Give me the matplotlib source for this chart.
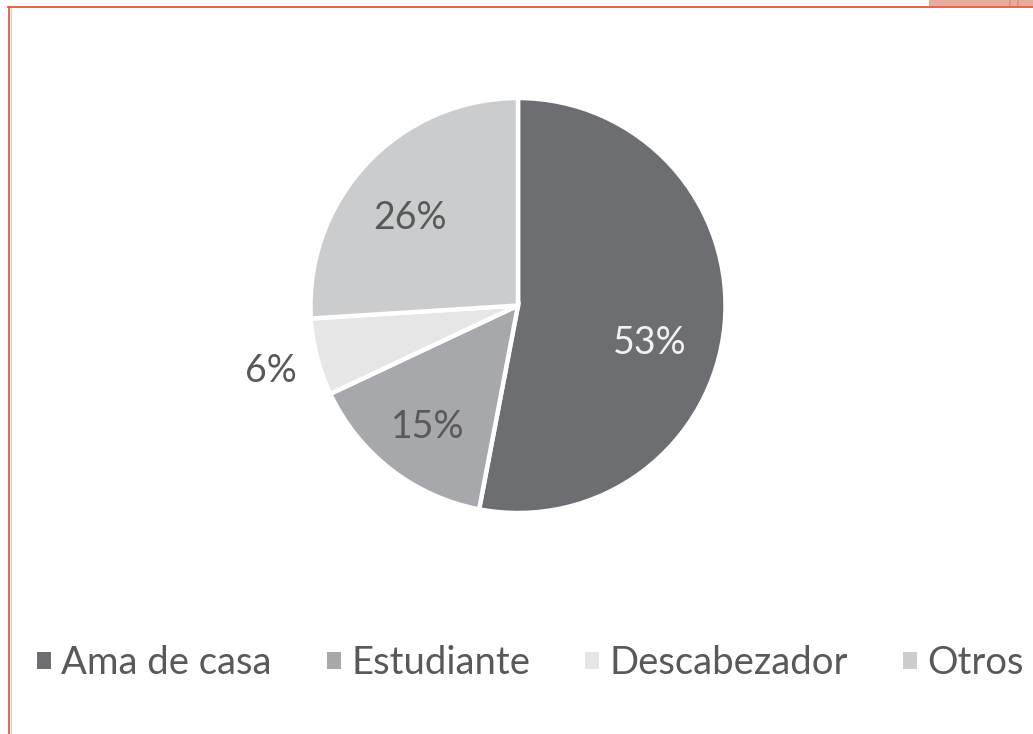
import numpy as np
import matplotlib
matplotlib.use("Agg")
import matplotlib.pyplot as plt
from matplotlib.patches import Patch, Rectangle
from matplotlib.lines import Line2D

categories = ["Ama de casa", "Estudiante", "Descabezador", "Otros"]
shares = [53, 15, 6, 26]
slice_colors = ["#6d6e71", "#a7a8ab", "#e6e6e7", "#cbcccd"]
label_colors = ["#f2f2f2", "#595959", "#595959", "#595959"]
# label placement (radius as fraction of pie radius, angular shift in degrees)
label_radius = [0.66, 0.73, 1.23, 0.67]
label_shift = [-10.5, 1.0, 0.5, 4.0]

plt.rcParams["font.family"] = ["Lato", "DejaVu Sans"]

W, H = 1033, 734
fig = plt.figure(figsize=(W / 100, H / 100), dpi=100)
fig.patch.set_facecolor("white")

# pie centre and radius in pixels
cx, cy, r = 518, 734 - 305.5, 207.5
ax = fig.add_axes([(cx - r) / W, (cy - r) / H, 2 * r / W, 2 * r / H])
wedges, _ = ax.pie(shares, colors=slice_colors, startangle=90, counterclock=False,
                   radius=1.0, wedgeprops=dict(edgecolor="white", linewidth=3.2))
ax.set_xlim(-1, 1)
ax.set_ylim(-1, 1)
ax.set_aspect("equal")
ax.axis("off")

for w, val, col, rad, sh in zip(wedges, shares, label_colors, label_radius, label_shift):
    mid = np.deg2rad((w.theta1 + w.theta2) / 2 + sh)
    ax.text(rad * np.cos(mid), rad * np.sin(mid), f"{val}%", ha="center", va="center",
            fontsize=27, color=col)

handles = [Patch(facecolor=c, edgecolor="none") for c in slice_colors]
fig.legend(handles, categories, ncol=4, loc="center left",
           bbox_to_anchor=(37 / W, 1 - 663 / H), frameon=False,
           fontsize=27.5, labelcolor="#595959", borderpad=0, borderaxespad=0,
           handlelength=0.36, handleheight=0.3, handletextpad=0.27,
           columnspacing=1.45)

# frame decoration
fig.add_artist(Line2D([8.5 / W, 8.5 / W], [0, 1 - 6.5 / H], transform=fig.transFigure,
                      color="#e05a3c", linewidth=1.3))
fig.add_artist(Line2D([10.5 / W, 10.5 / W], [0, 1 - 8 / H], transform=fig.transFigure,
                      color="#f4c6bb", linewidth=0.8))
fig.add_artist(Rectangle((929 / W, 1 - 6 / H), (W - 929) / W, 6 / H,
                         transform=fig.transFigure, facecolor="#e8ab9d", edgecolor="none"))
for xp in (1010, 1017.5):
    fig.add_artist(Line2D([xp / W, xp / W], [1 - 6 / H, 1], transform=fig.transFigure,
                          color="#d8978a", linewidth=1.4))
fig.add_artist(Line2D([8 / W, 1], [1 - 6.5 / H, 1 - 6.5 / H], transform=fig.transFigure,
                      color="#e05a3c", linewidth=1.3))

fig.savefig("out.png", dpi=100, facecolor="white")
